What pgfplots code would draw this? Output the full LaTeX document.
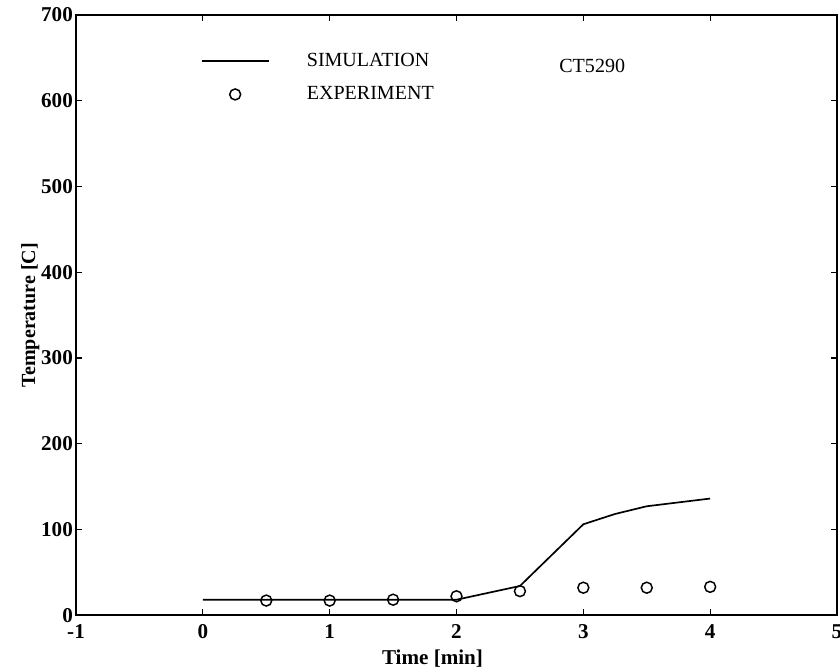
\documentclass[border=0pt]{standalone}
\usepackage{fontspec}
\setmainfont{Liberation Serif}
\usepackage{pgfplots}
\pgfplotsset{compat=1.18}

\begin{document}
\begin{tikzpicture}
  \begin{axis}[
      width=12.68cm, height=10cm,
      scale only axis,
      xmin=-1, xmax=5,
      ymin=0, ymax=700,
      xtick={-1,0,...,5},
      ytick={0,100,...,700},
      tick align=inside,
      major tick length=0.1cm,
      axis line style={line width=0.9pt},
      tick style={line width=0.6pt, black},
      /pgf/number format/assume math mode=true,
      ticklabel style={font=\bfseries\fontsize{10}{12}\selectfont},
      xticklabel style={yshift=-1pt},
      yticklabel style={xshift=2pt},
      xlabel={\bfseries Time [min]},
      ylabel={\bfseries Temperature [C]},
      xlabel style={font=\fontsize{10}{12}\selectfont, yshift=1.5pt, xshift=-0.4cm},
      ylabel style={font=\fontsize{9.5}{12}\selectfont, yshift=-6pt},
      legend cell align=left,
      legend style={
        draw=none, fill=none,
        at={(axis cs:-0.07,666)}, anchor=north west,
        font=\fontsize{9.5}{12}\selectfont,
        row sep=0.14cm, column sep=0.55cm,
      },
      legend image code/.code={
        \draw[mark repeat=2, mark phase=2, #1]
          plot coordinates {(0cm,0cm) (0.56cm,0cm) (1.12cm,0cm)};
      },
    ]

    \addplot[black, line width=0.8pt] coordinates {
      (0, 18)
      (0.5, 18)
      (1, 18)
      (1.5, 18)
      (2, 18)
      (2.5, 34)
      (3, 106)
      (3.25, 118)
      (3.5, 127)
      (4, 136)
    };

    \addplot[only marks, mark=o, mark size=2.6pt, black, mark options={line width=0.7pt}] coordinates {
      (0.5, 17)
      (1, 17)
      (1.5, 18)
      (2, 22)
      (2.5, 28)
      (3, 32)
      (3.5, 32)
      (4, 33)
    };

    \legend{SIMULATION, EXPERIMENT}

    \node[font=\fontsize{9.5}{12}\selectfont] at (axis cs:3.07,641) {CT5290};
  \end{axis}
  \pgfresetboundingbox
  \path ([xshift=-1.267cm,yshift=-0.933cm]current axis.south west)
    rectangle ([xshift=0.05cm,yshift=0.25cm]current axis.north east);
\end{tikzpicture}
\end{document}
